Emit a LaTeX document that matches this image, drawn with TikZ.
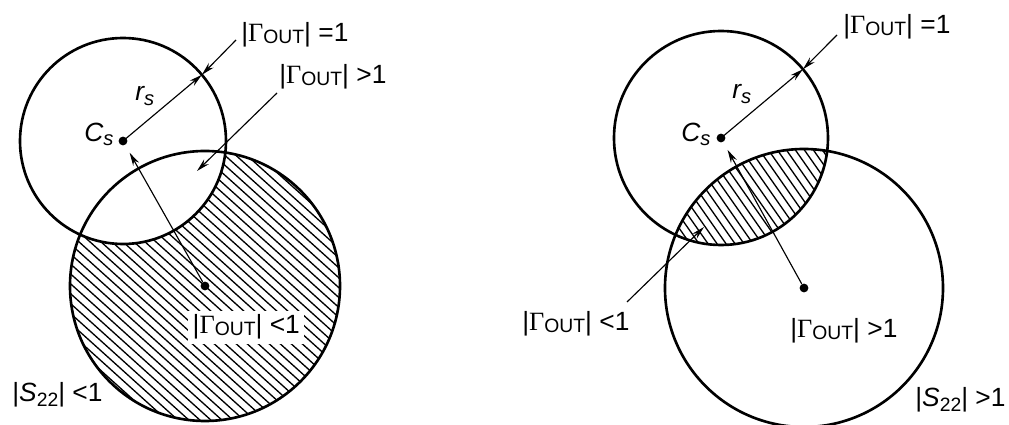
\documentclass[tikz,border=0pt]{standalone}
\usepackage{fontspec}
\setmainfont{Liberation Sans}
\newfontfamily\gfont{Liberation Serif}
\usetikzlibrary{arrows.meta,calc}
\newcommand{\GO}{|{\gfont Γ}\raisebox{-0.8pt}{\fontsize{11}{12}\selectfont OUT}|}
\newcommand{\Cs}{{\itshape C}\raisebox{-2.2pt}{\fontsize{11.5}{12}\selectfont\itshape s}}
\newcommand{\rsub}{{\itshape r}\raisebox{-2.8pt}{\fontsize{11.5}{12}\selectfont\itshape s}}
\newcommand{\Sz}{|{\itshape S}\raisebox{-2.5pt}{\fontsize{11}{12}\selectfont 22}|}
\begin{document}
\begin{tikzpicture}[x=0.02cm,y=-0.02cm,
  circ/.style={line width=1.5pt},
  arr/.style={line width=0.65pt,-{Stealth[length=7.5pt,width=3.8pt]}},
  hatchline/.style={line width=0.75pt},
  lbl/.style={font=\fontsize{15}{17}\selectfont, inner sep=0pt, anchor=base west},
  dotn/.style={circle,fill,inner sep=0pt,minimum size=5pt}]
\useasboundingbox (0,0) rectangle (1009,425);

% ---------------- left panel ----------------
\coordinate (S1) at (123,141);
\coordinate (B1) at (205,286);
\begin{scope}
  \clip (B1) circle[radius=135];
  \foreach \i in {-32,...,32}
    \draw[hatchline] ($(B1)+(\i*11,0)$) ++(222:260) -- ++(42:520);
\end{scope}
\fill[white] (S1) circle[radius=103];
\draw[circ] (S1) circle[radius=103];
\draw[circ] (B1) circle[radius=135];
\node[dotn] (cs1) at (S1) {};
\node[dotn] (c1) at (B1) {};
\coordinate (P1) at ($(S1)+(-40:103)$);
\coordinate (a1) at (236,40);
\coordinate (a2) at (277,93);
\coordinate (a2t) at (197,171);

\node[lbl] (eq1L) at (241,42) {\GO\ =1};
\node[lbl] (gt1L) at (279,84) {\GO\ >1};
\node[lbl] (csL) at (84,142) {\Cs};
\node[lbl] (rsL) at (135,101) {\rsub};
\node[lbl, fill=white, inner sep=2.5pt] (lt1L) at (188,334) {\GO\ <1};
\node[lbl] (s22L) at (12,402) {\Sz\ <1};

\draw[arr] (cs1.center) -- (P1);
\draw[arr] (a1) -- (P1);
\draw[arr] (a2) -- (a2t);
\draw[arr,shorten >=5pt] (c1) -- (cs1);

% ---------------- right panel ----------------
\coordinate (S2) at (721,138);
\coordinate (B2) at (804,288);
\begin{scope}
  \clip (S2) circle[radius=107];
  \clip (B2) circle[radius=139];
  \foreach \i in {-30,...,30}
    \draw[hatchline] ($(S2)+(\i*9,60)$) ++(235:260) -- ++(55:520);
\end{scope}
\draw[circ] (S2) circle[radius=107];
\draw[circ] (B2) circle[radius=139];
\node[dotn] (cs2) at (S2) {};
\node[dotn] (c2) at (B2) {};
\coordinate (P2) at ($(S2)+(-40:107)$);
\coordinate (b1) at (837,35);
\coordinate (b2) at (627,302);
\coordinate (b2t) at (704,227);

\node[lbl] (eq1R) at (843,34) {\GO\ =1};
\node[lbl] (csR) at (681,142) {\Cs};
\node[lbl] (rsR) at (732,99) {\rsub};
\node[lbl] (lt1R) at (522,331) {\GO\ <1};
\node[lbl] (gt1R) at (790,338) {\GO\ >1};
\node[lbl] (s22R) at (915,407) {\Sz\ >1};

\draw[arr] (cs2.center) -- (P2);
\draw[arr] (b1) -- (P2);
\draw[arr] (b2) -- (b2t);
\draw[arr,shorten >=5pt] (c2) -- (cs2);
\end{tikzpicture}
\end{document}
